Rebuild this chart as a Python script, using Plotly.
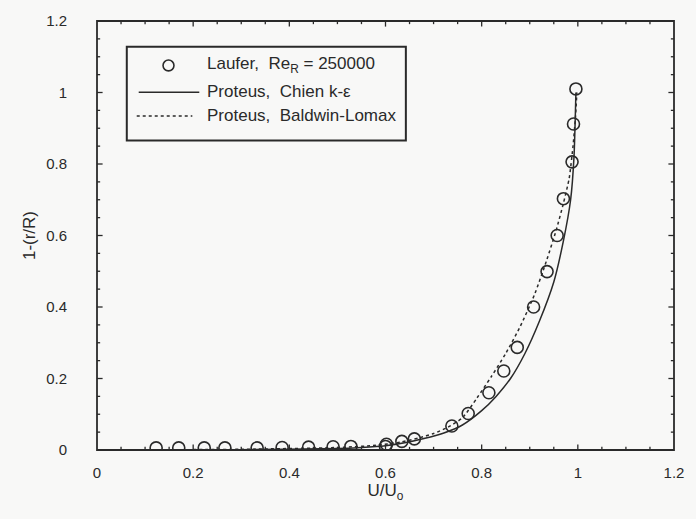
import plotly.graph_objects as go

# Laufer pipe-flow measurements, Re_R = 250000
laufer_u = [0.123, 0.170, 0.223, 0.266, 0.333, 0.385, 0.440, 0.491, 0.528, 0.600, 0.602,
            0.634, 0.660, 0.738, 0.772, 0.815, 0.846, 0.874, 0.908, 0.936, 0.957, 0.970,
            0.988, 0.991, 0.996]
laufer_y = [0.006, 0.006, 0.006, 0.006, 0.006, 0.007, 0.008, 0.009, 0.010, 0.010, 0.016,
            0.024, 0.031, 0.067, 0.102, 0.160, 0.221, 0.287, 0.400, 0.499, 0.600, 0.703,
            0.806, 0.912, 1.010]

# Proteus, Chien k-epsilon
chien_u = [0.0, 0.30, 0.50, 0.55, 0.60, 0.64, 0.68, 0.72, 0.76, 0.80, 0.83, 0.86,
           0.89, 0.92, 0.95, 0.97, 0.985, 0.992, 0.996]
chien_y = [0.0, 0.001, 0.004, 0.007, 0.012, 0.020, 0.032, 0.047, 0.070, 0.110, 0.150,
           0.200, 0.270, 0.360, 0.470, 0.585, 0.700, 0.820, 1.000]

# Proteus, Baldwin-Lomax
bl_u = [0.0, 0.30, 0.50, 0.58, 0.63, 0.67, 0.70, 0.73, 0.76, 0.79, 0.82, 0.85, 0.88,
        0.91, 0.935, 0.955, 0.97, 0.982, 0.99, 0.995, 0.998]
bl_y = [0.0, 0.002, 0.007, 0.013, 0.022, 0.034, 0.046, 0.064, 0.090, 0.145, 0.205,
        0.270, 0.345, 0.435, 0.530, 0.615, 0.690, 0.760, 0.850, 0.930, 1.000]

x_ticks = [0, 0.2, 0.4, 0.6, 0.8, 1, 1.2]
x_tick_text = ["0", "0.2", "0.4", "0.6", "0.8", "1", "1.2"]
y_ticks = [0, 0.2, 0.4, 0.6, 0.8, 1, 1.2]
y_tick_text = ["0", "0.2", "0.4", "0.6", "0.8", "1", "1.2"]
minor_ticks = [round(0.05 * i, 2) for i in range(25) if i % 4]
axis_range = [0, 1.2]

legend_labels = ["Laufer,  Re<sub>R</sub> = 250000", "Proteus,  Chien k-\u03b5",
                 "Proteus,  Baldwin-Lomax"]

ink = "#2a2a2a"
bg = "#f8f8f7"
font = "Liberation Sans, Arial, sans-serif"

W, H = 696, 519
L, R, T, B = 97, 18, 16, 69
PW, PH = W - L - R, H - T - B


def px_x(p):
    return (p - L) / PW


def px_y(p):
    return (H - B - p) / PH


fig = go.Figure()
fig.add_trace(go.Scatter(
    x=laufer_u, y=laufer_y, mode="markers", name=legend_labels[0], showlegend=False,
    marker=dict(symbol="circle-open", size=12, color=ink, line=dict(width=1.6, color=ink)),
))
fig.add_trace(go.Scatter(
    x=chien_u, y=chien_y, mode="lines", name=legend_labels[1], showlegend=False,
    line=dict(color=ink, width=1.5, shape="spline", smoothing=0.6),
))
fig.add_trace(go.Scatter(
    x=bl_u, y=bl_y, mode="lines", name=legend_labels[2], showlegend=False,
    line=dict(color=ink, width=1.5, dash="dot", shape="spline", smoothing=0.6),
))


def add_ticks(vals, half_len):
    """Inward ticks on all four frame edges; the outer half is clipped by the plot area."""
    lo, hi = axis_range
    inner = [v for v in vals if lo < v < hi]
    n = len(inner)
    tick_marker = dict(color=ink, size=half_len, line=dict(color=ink, width=1.3))
    fig.add_trace(go.Scatter(
        x=inner + inner, y=[lo] * n + [hi] * n, mode="markers", showlegend=False,
        hoverinfo="skip", cliponaxis=True,
        marker=dict(symbol="line-ns", **tick_marker),
    ))
    fig.add_trace(go.Scatter(
        x=[lo] * n + [hi] * n, y=inner + inner, mode="markers", showlegend=False,
        hoverinfo="skip", cliponaxis=True,
        marker=dict(symbol="line-ew", **tick_marker),
    ))


add_ticks(x_ticks, 8)
add_ticks(minor_ticks, 4.5)

tick_font = dict(family=font, size=15, color=ink)
title_font = dict(family=font, size=17, color=ink)

# tick labels sit a little away from the frame
fig.update_layout(
    xaxis=dict(range=axis_range, tickvals=x_ticks, ticktext=x_tick_text,
               showgrid=False, zeroline=False, showline=False,
               ticks="outside", ticklen=9, tickcolor="rgba(0,0,0,0)", tickfont=tick_font,
               title=dict(text="U/U<sub>o</sub>", font=title_font, standoff=2)),
    yaxis=dict(range=axis_range, tickvals=y_ticks, ticktext=y_tick_text,
               showgrid=False, zeroline=False, showline=False,
               ticks="outside", ticklen=26, tickcolor="rgba(0,0,0,0)", tickfont=tick_font,
               title=dict(text="1-(r/R)", font=title_font, standoff=6)),
)

shapes = [
    # plot frame
    dict(type="rect", xref="paper", yref="paper", x0=0, x1=1, y0=0, y1=1,
         line=dict(color=ink, width=1.8), layer="above"),
    # legend box
    dict(type="rect", xref="paper", yref="paper",
         x0=px_x(127), x1=px_x(408), y0=px_y(137), y1=px_y(42),
         line=dict(color=ink, width=2), fillcolor=bg, layer="above"),
    dict(type="circle", xref="paper", yref="paper",
         x0=px_x(163.5), x1=px_x(174.5), y0=px_y(66.5), y1=px_y(55.5),
         line=dict(color=ink, width=1.6), layer="above"),
    dict(type="line", xref="paper", yref="paper",
         x0=px_x(139), x1=px_x(200), y0=px_y(88), y1=px_y(88),
         line=dict(color=ink, width=1.5), layer="above"),
    dict(type="line", xref="paper", yref="paper",
         x0=px_x(137), x1=px_x(193), y0=px_y(112), y1=px_y(112),
         line=dict(color=ink, width=1.5, dash="dot"), layer="above"),
]
annotations = []
for label, row_y in zip(legend_labels, [61, 87, 112]):
    annotations.append(dict(
        text=label, xref="paper", yref="paper", x=px_x(206), y=px_y(row_y),
        xanchor="left", yanchor="middle", showarrow=False,
        font=dict(family=font, size=17, color=ink),
    ))

fig.update_layout(
    width=W, height=H,
    margin=dict(l=L, r=R, t=T, b=B),
    paper_bgcolor=bg, plot_bgcolor=bg,
    font=dict(family=font, color=ink),
    showlegend=False,
    shapes=shapes, annotations=annotations,
)

fig.write_html("out.html")
